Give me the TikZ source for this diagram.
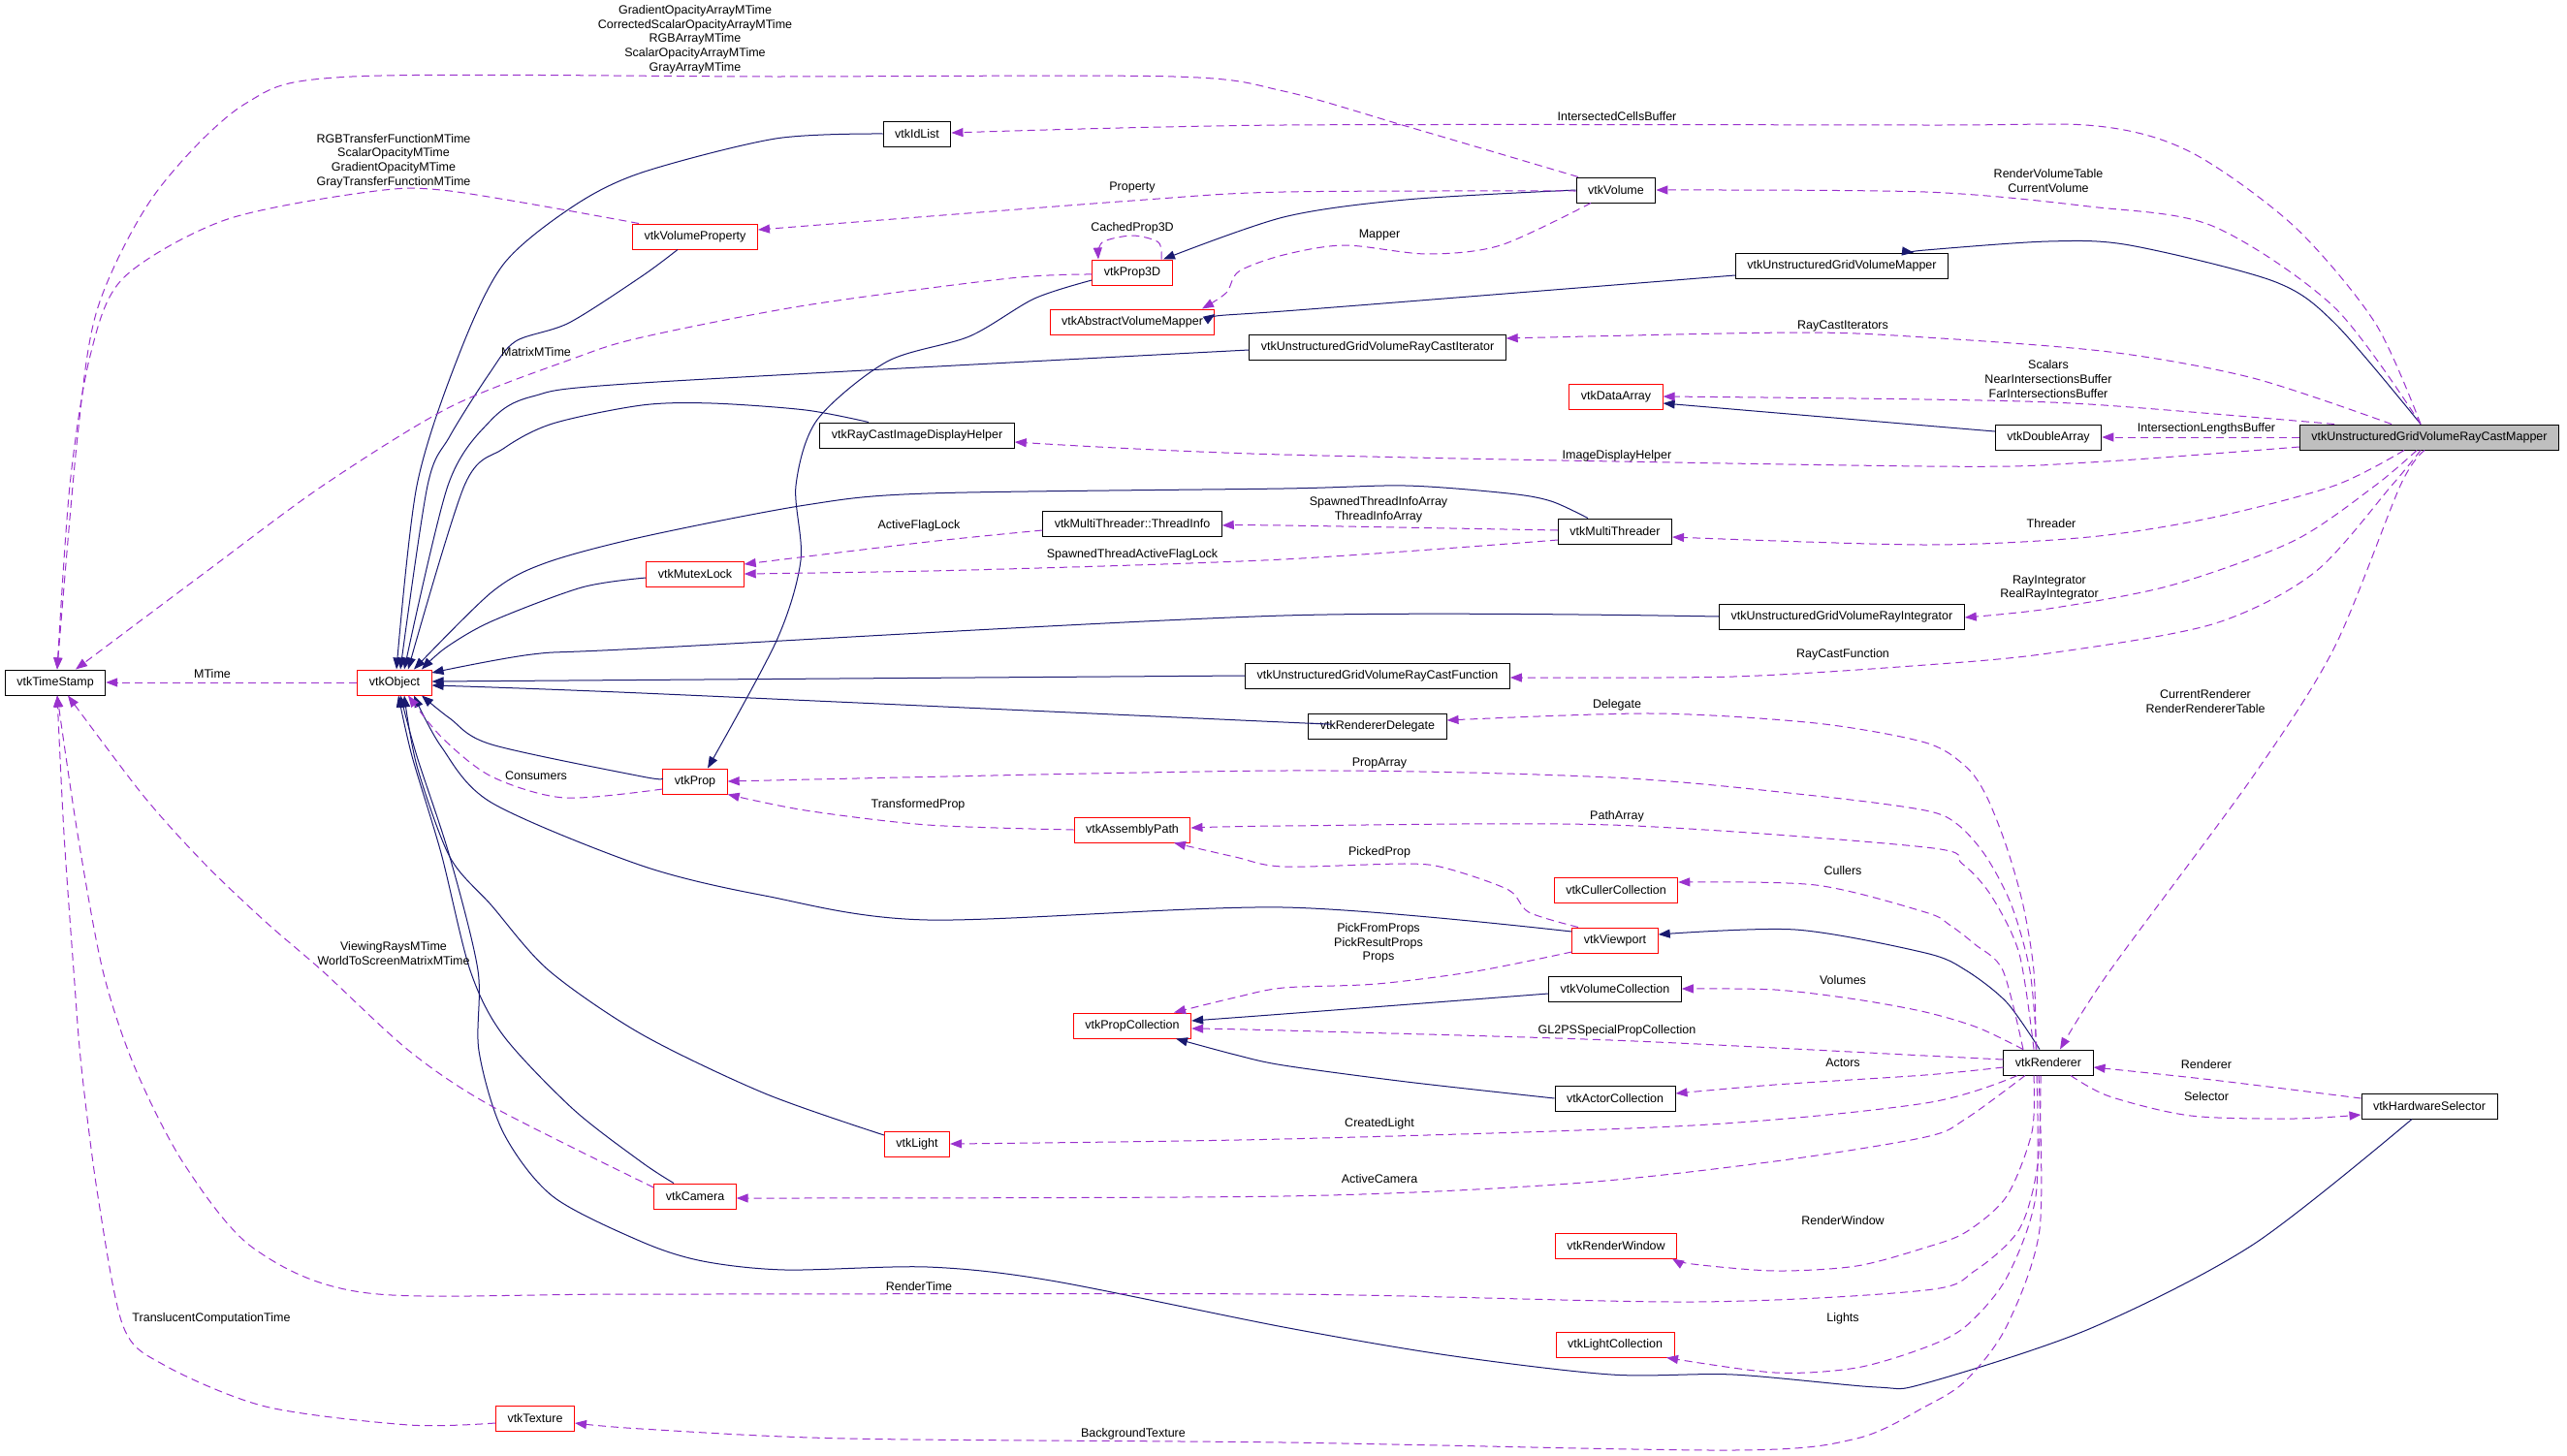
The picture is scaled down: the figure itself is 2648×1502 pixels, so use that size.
\documentclass[tikz,border=0pt]{standalone}
\usepackage{fontspec}
\setmainfont{Liberation Sans}
\usetikzlibrary{arrows.meta}
\definecolor{navyc}{HTML}{191970}
\definecolor{purp}{HTML}{9A32CD}
\definecolor{boxred}{HTML}{FF0000}
\definecolor{graymain}{HTML}{BFBFBF}
\newcommand\dxfont{\fontsize{12.5}{14.7}\selectfont}
\begin{document}
\begin{tikzpicture}[x=1pt,y=-1pt,
  box/.style={draw, line width=1pt, minimum height=26pt, inner xsep=12pt, inner ysep=0pt, font=\dxfont, fill=white},
  cls/.style={box, draw=black},
  trunc/.style={box, draw=boxred},
  mainc/.style={box, draw=black, fill=graymain},
  inh/.style={draw=navyc, line width=1pt, -{Triangle[length=12pt,width=9pt]}},
  dep/.style={draw=purp, line width=1pt, dash pattern=on 8pt off 5pt, -{Triangle[length=12pt,width=9pt]}},
  lbl/.style={font=\dxfont, inner sep=0pt, align=center}]
\fill[white] (0,0) rectangle (2648,1502);
\useasboundingbox (0,0) rectangle (2648,1502);

% nodes
\node[cls] (ts) at (57,704) {vtkTimeStamp};
\node[trunc] (obj) at (407,704) {vtkObject};
\node[cls] (idl) at (946,138) {vtkIdList};
\node[trunc] (vprop) at (717,244) {vtkVolumeProperty};
\node[trunc] (p3d) at (1168,281) {vtkProp3D};
\node[trunc] (avm) at (1168,332) {vtkAbstractVolumeMapper};
\node[cls] (dh) at (946,449) {vtkRayCastImageDisplayHelper};
\node[cls] (rci) at (1421,358) {vtkUnstructuredGridVolumeRayCastIterator};
\node[cls] (vol) at (1667,196) {vtkVolume};
\node[cls] (ugvm) at (1900,274) {vtkUnstructuredGridVolumeMapper};
\node[trunc] (da) at (1667,409) {vtkDataArray};
\node[cls] (dba) at (2113,451) {vtkDoubleArray};
\node[mainc] (main) at (2506,451) {vtkUnstructuredGridVolumeRayCastMapper};
\node[cls] (ti) at (1168,540) {vtkMultiThreader::ThreadInfo};
\node[trunc] (ml) at (717,592) {vtkMutexLock};
\node[cls] (mt) at (1666,548) {vtkMultiThreader};
\node[cls] (ri) at (1900,636) {vtkUnstructuredGridVolumeRayIntegrator};
\node[cls] (rcf) at (1421,697) {vtkUnstructuredGridVolumeRayCastFunction};
\node[cls] (rd) at (1421,749) {vtkRendererDelegate};
\node[trunc] (prop) at (717,806) {vtkProp};
\node[trunc] (ap) at (1168,856) {vtkAssemblyPath};
\node[trunc] (cc) at (1667,918) {vtkCullerCollection};
\node[trunc] (vp) at (1666,970) {vtkViewport};
\node[trunc] (pc) at (1168,1058) {vtkPropCollection};
\node[cls] (vc) at (1666,1020) {vtkVolumeCollection};
\node[cls] (ac) at (1666,1133) {vtkActorCollection};
\node[trunc] (light) at (946,1180) {vtkLight};
\node[trunc] (cam) at (717,1234) {vtkCamera};
\node[trunc] (rw) at (1667,1285) {vtkRenderWindow};
\node[trunc] (lc) at (1666,1387) {vtkLightCollection};
\node[trunc] (tex) at (552,1463) {vtkTexture};
\node[cls] (ren) at (2113,1096) {vtkRenderer};
\node[cls] (hs) at (2506,1141) {vtkHardwareSelector};

% inheritance (solid)
\draw[inh] plot[smooth] coordinates {(idl.west) (800,143) (662,178) (591,213) (519,273) (473,367) (430,501) ([xshift=2pt]obj.north)};
\draw[inh] plot[smooth] coordinates {([xshift=-18pt]vprop.south) (662,285) (587,333) (532,352) (505,385) (464,450) (441,501) ([xshift=6pt]obj.north)};
\draw[inh] plot[smooth] coordinates {([yshift=-3pt]rci.west) (662,395) (549,409) (505,435) (462,501) ([xshift=10pt]obj.north)};
\draw[inh] plot[smooth] coordinates {([xshift=-50pt]dh.north) (831,423) (734,416) (662,418) (570,437) (519,463) (479,501) ([xshift=14pt]obj.north)};
\draw[inh] plot[smooth] coordinates {([xshift=-28pt]mt.north) (1600,517) (1556,509) (1450,501) (1324,504) (957,509) (831,521) (662,554) (562,581) (507,611) ([xshift=20pt]obj.north)};
\draw[inh] plot[smooth] coordinates {([yshift=-4pt]ml.west) (600,606) (507,641) (460,668) ([xshift=28pt]obj.north)};
\draw[inh] plot[smooth] coordinates {(ri.west) (1324,635) (662,669) (549,675) ([yshift=10pt]obj.east)};
\draw[inh] (rcf.west) -- ([yshift=1pt]obj.east);
\draw[inh] plot[smooth] coordinates {([yshift=3pt]rd.west) (1324,745) (662,715) ([yshift=-3pt]obj.east)};
\draw[inh] plot[smooth] coordinates {([yshift=3pt]prop.west) (662,801) (507,768) (464,741) ([xshift=28pt]obj.south)};
\draw[inh] plot[smooth] coordinates {([yshift=9pt]vp.west) (1324,936) (957,949) (789,924) (662,893) (507,828) (455,770) ([xshift=20pt]obj.south)};
\draw[inh] plot[smooth] coordinates {([yshift=9pt]light.west) (789,1128) (662,1067) (566,1001) (507,934) (464,884) (430,790) ([xshift=10pt]obj.south)};
\draw[inh] plot[smooth] coordinates {([xshift=-22pt]cam.north) (662,1199) (591,1144) (519,1068) (485,1001) (455,880) (425,780) ([xshift=4pt]obj.south)};
\draw[inh] plot[smooth] coordinates {([xshift=-18pt]hs.south) (2324,1284) (2155,1371) (1986,1427) (1936,1431) (1788,1418) (1662,1418) (1493,1398) (1324,1369) (1084,1321) (957,1307) (810,1310) (725,1301) (662,1281) (570,1234) (519,1168) (494,1084) (493,1001) (464,884) (430,780) ([xshift=6pt]obj.south)};
\draw[inh] plot[smooth] coordinates {(vol.west) (1450,206) (1324,224) ([xshift=32pt]p3d.north)};
\draw[inh] plot[smooth] coordinates {([yshift=-8pt]p3d.west) (1067,308) (1000,347) (915,373) (843,433) (821,501) (826,578) (801,661) ([xshift=13pt]prop.north)};
\draw[inh] plot[smooth] coordinates {([yshift=-10pt]ugvm.west) (1324,321) ([yshift=8pt]avm.east)};
\draw[inh] plot[smooth] coordinates {([xshift=-9pt]main.north) (2408,333) (2345,290) (2197,253) (2113,249) (1986,258) ([xshift=74pt]ugvm.north)};
\draw[inh] plot[smooth] coordinates {([yshift=6pt]dba.west) (1986,439) ([yshift=-7pt]da.east)};
\draw[inh] plot[smooth] coordinates {([xshift=-9pt]ren.north) (2070,1034) (2028,1001) (1986,983) (1852,959) ([yshift=6pt]vp.east)};
\draw[inh] plot[smooth] coordinates {([yshift=-5pt]vc.west) (1324,1046) ([yshift=5pt]pc.east)};
\draw[inh] plot[smooth] coordinates {(ac.west) (1451,1116) (1324,1099) (1274,1088) ([xshift=45pt]pc.south)};

% usage (dashed)
\draw[dep] plot[smooth,tension=0.5] coordinates {([xshift=-39pt]vol.north) (1450,130) (1324,94) (1211,79) (800,79) (363,79) (253,107) (160,200) (101,317) (80,450) ([xshift=2pt]ts.north)};
\draw[dep] plot[smooth] coordinates {([xshift=-58pt]vprop.north) (464,197) (380,198) (232,227) (127,287) (93,367) (72,501) ([xshift=2pt]ts.north)};
\draw[dep] plot[smooth] coordinates {([yshift=-2pt]p3d.west) (1042,287) (831,315) (662,348) (591,370) (464,420) (333,501) (211,591) ([xshift=21pt]ts.north)};
\draw[dep] (obj.west) -- (ts.east);
\draw[dep] plot[smooth] coordinates {([yshift=9pt]cam.west) (507,1141) (422,1084) (333,1002) (274,951) (211,891) (148,821) ([xshift=13pt]ts.south)};
\draw[dep] plot[smooth] coordinates {([xshift=-8pt]ren.south) (2102,1201) (2083,1268) (2037,1311) (1986,1331) (1746,1343) (1324,1335) (662,1335) (380,1334) (262,1288) (190,1201) (139,1101) (106,1001) (80,860) ([xshift=2pt]ts.south)};
\draw[dep] plot[smooth] coordinates {([yshift=-5pt]tex.west) (422,1470) (274,1451) (169,1408) (127,1368) (101,1234) (84,1101) (76,1001) (66,860) ([xshift=2pt]ts.south)};
\draw[dep] plot[smooth] coordinates {([yshift=-8pt]prop.west) (582,823) (507,801) (456,761) ([xshift=14pt]obj.south)};
\draw[dep] plot[smooth] coordinates {([xshift=30pt]p3d.north) (1195,250) (1168,243) (1137,250) ([xshift=-35pt]p3d.north)};
\draw[dep] plot[smooth] coordinates {([yshift=-1pt]vol.west) (1324,198) (1168,207) ([yshift=7pt]vprop.east)};
\draw[dep] plot[smooth] coordinates {([xshift=-26pt]vol.south) (1548,253) (1472,262) (1387,253) (1324,263) (1278,280) (1265,302) ([xshift=72pt]avm.north)};
\draw[dep] plot[smooth] coordinates {([xshift=-9pt]main.north) (2450,333) (2366,233) (2260,157) (2163,130) (1986,129) (1324,129) ([yshift=1pt]idl.east)};
\draw[dep] plot[smooth] coordinates {([xshift=-9pt]main.north) (2408,317) (2282,233) (2155,213) (1986,198) (vol.east)};
\draw[dep] plot[smooth] coordinates {([xshift=-39pt]main.north) (2324,390) (2176,363) (1986,348) (1852,343) ([yshift=9pt]rci.east)};
\draw[dep] plot[smooth] coordinates {([xshift=-98pt]main.north) (2155,417) (1986,412) (da.east)};
\draw[dep] (main.west) -- (dba.east);
\draw[dep] plot[smooth] coordinates {([yshift=-10pt]main.west) (2155,477) (1986,481) (1324,469) ([yshift=-7pt]dh.east)};
\draw[dep] plot[smooth] coordinates {([xshift=-26pt]main.south) (2408,501) (2282,534) (2155,554) (1986,562) ([yshift=-6pt]mt.east)};
\draw[dep] plot[smooth] coordinates {([xshift=-13pt]main.south) (2450,501) (2366,558) (2239,604) (2113,628) ([yshift=-1pt]ri.east)};
\draw[dep] plot[smooth] coordinates {([xshift=-9pt]main.south) (2467,501) (2387,591) (2282,644) (2113,674) (1986,686) (1788,698) ([yshift=-2pt]rcf.east)};
\draw[dep] plot[smooth] coordinates {([xshift=-5pt]main.south) (2476,501) (2408,668) (2324,801) (2176,1002) ([xshift=12pt]ren.north)};
\draw[dep] plot[smooth] coordinates {([xshift=-13pt]ren.north) (2098,1002) (2087,934) (2070,874) (2049,821) (2028,791) (1986,766) (1873,746) (1704,736) ([yshift=6pt]rd.east)};
\draw[dep] plot[smooth] coordinates {([xshift=-12pt]ren.north) (2094,1002) (2075,934) (2049,884) (2020,851) (1986,836) (1873,821) (1662,802) (1324,795) (prop.east)};
\draw[dep] plot[smooth] coordinates {([xshift=-15pt]ren.north) (2083,984) (2054,924) (2024,891) (1986,874) (1662,851) (1324,852) ([yshift=2pt]ap.east)};
\draw[dep] plot[smooth] coordinates {(ap.west) (957,851) (831,836) (prop.south east)};
\draw[dep] plot[smooth] coordinates {([xshift=-38pt]vp.north) (1577,941) (1556,918) (1493,896) (1451,891) (1324,894) (1274,884) ([xshift=43pt]ap.south)};
\draw[dep] plot[smooth] coordinates {([xshift=-26pt]ren.north) (2066,1001) (2037,974) (2011,954) (1986,941) (1873,913) ([yshift=8pt]cc.east)};
\draw[dep] plot[smooth] coordinates {([yshift=-12pt]vp.west) (1522,1002) (1420,1015) (1324,1019) (1274,1029) ([xshift=43pt]pc.north)};
\draw[dep] plot[smooth] coordinates {([xshift=-26pt]ren.north) (2040,1060) (1986,1044) (1915,1031) (1831,1021) (vc.east)};
\draw[dep] plot[smooth] coordinates {([yshift=3pt]ren.west) (1986,1089) (1662,1073) (1324,1063) ([yshift=-3pt]pc.east)};
\draw[dep] plot[smooth] coordinates {([yshift=-5pt]ren.west) (1986,1109) (1831,1119) ([yshift=5pt]ac.east)};
\draw[dep] plot[smooth] coordinates {([xshift=-32pt]ren.south) (1986,1138) (1746,1161) (1324,1175) (light.east)};
\draw[dep] plot[smooth] coordinates {([xshift=-24pt]ren.south) (2028,1154) (1986,1173) (1831,1198) (1620,1221) (1324,1234) ([yshift=-2pt]cam.east)};
\draw[dep] plot[smooth] coordinates {([xshift=-15pt]ren.south) (2096,1168) (2070,1234) (2028,1271) (1986,1287) (1915,1306) (1831,1311) (1746,1304) ([xshift=58pt]rw.south)};
\draw[dep] plot[smooth] coordinates {([xshift=-12pt]ren.south) (2100,1234) (2070,1318) (2028,1368) (1986,1390) (1915,1411) (1831,1416) ([xshift=53pt]lc.south)};
\draw[dep] plot[smooth] coordinates {([xshift=-10pt]ren.south) (2104,1268) (2070,1368) (2028,1424) (1986,1451) (1915,1484) (1788,1496) (1324,1488) (873,1484) (662,1474) ([yshift=-5pt]tex.east)};
\draw[dep] plot[smooth] coordinates {([yshift=8pt]hs.west) (2282,1114) ([yshift=-5pt]ren.east)};
\draw[dep] plot[smooth] coordinates {([xshift=23pt]ren.south) (2176,1131) (2260,1151) (2366,1154) ([yshift=-9pt]hs.west)};
\draw[dep] plot[smooth] coordinates {([yshift=1pt]mt.west) (1324,542) ([yshift=-2pt]ti.east)};
\draw[dep] plot[smooth] coordinates {([yshift=-9pt]mt.west) (1324,577) (1000,588) (ml.east)};
\draw[dep] plot[smooth] coordinates {([yshift=-7pt]ti.west) (957,559) ([yshift=10pt]ml.east)};

% labels
\node[lbl] (l01) at (717,40.5) {GradientOpacityArrayMTime\\CorrectedScalarOpacityArrayMTime\\RGBArrayMTime\\ScalarOpacityArrayMTime\\GrayArrayMTime};
\node[lbl] (l02) at (406,166) {RGBTransferFunctionMTime\\ScalarOpacityMTime\\GradientOpacityMTime\\GrayTransferFunctionMTime};
\node[lbl] (l03) at (553,363) {MatrixMTime};
\node[lbl] (l04) at (219,695) {MTime};
\node[lbl] (l05) at (406,983.5) {ViewingRaysMTime\\WorldToScreenMatrixMTime};
\node[lbl] (l06) at (948,1327) {RenderTime};
\node[lbl] (l07) at (218,1360) {TranslucentComputationTime};
\node[lbl] (l08) at (553,800) {Consumers};
\node[lbl] (l09) at (1168,235) {CachedProp3D};
\node[lbl] (l10) at (1168,193) {Property};
\node[lbl] (l11) at (1423,242) {Mapper};
\node[lbl] (l12) at (1668,120) {IntersectedCellsBuffer};
\node[lbl] (l13) at (2113,186.5) {RenderVolumeTable\\CurrentVolume};
\node[lbl] (l14) at (1901,336) {RayCastIterators};
\node[lbl] (l15) at (2113,391) {Scalars\\NearIntersectionsBuffer\\FarIntersectionsBuffer};
\node[lbl] (l16) at (2276,442) {IntersectionLengthsBuffer};
\node[lbl] (l17) at (1668,470) {ImageDisplayHelper};
\node[lbl] (l18) at (2116,540) {Threader};
\node[lbl] (l19) at (2114,606.5) {RayIntegrator\\RealRayIntegrator};
\node[lbl] (l20) at (1901,675) {RayCastFunction};
\node[lbl] (l21) at (2275,723.5) {CurrentRenderer\\RenderRendererTable};
\node[lbl] (l22) at (1668,727) {Delegate};
\node[lbl] (l23) at (1423,787) {PropArray};
\node[lbl] (l24) at (1668,842) {PathArray};
\node[lbl] (l25) at (947,830) {TransformedProp};
\node[lbl] (l26) at (1423,879) {PickedProp};
\node[lbl] (l27) at (1901,898) {Cullers};
\node[lbl] (l28) at (1422,973) {PickFromProps\\PickResultProps\\Props};
\node[lbl] (l29) at (1901,1011) {Volumes};
\node[lbl] (l30) at (1668,1063) {GL2PSSpecialPropCollection};
\node[lbl] (l31) at (1901,1096) {Actors};
\node[lbl] (l32) at (1423,1159) {CreatedLight};
\node[lbl] (l33) at (1423,1216) {ActiveCamera};
\node[lbl] (l34) at (1901,1259) {RenderWindow};
\node[lbl] (l35) at (1901,1360) {Lights};
\node[lbl] (l36) at (1169,1479) {BackgroundTexture};
\node[lbl] (l37) at (2276,1098) {Renderer};
\node[lbl] (l38) at (2276,1131) {Selector};
\node[lbl] (l39) at (1422,525.5) {SpawnedThreadInfoArray\\ThreadInfoArray};
\node[lbl] (l40) at (1168,572) {SpawnedThreadActiveFlagLock};
\node[lbl] (l41) at (948,542) {ActiveFlagLock};
\end{tikzpicture}
\end{document}
